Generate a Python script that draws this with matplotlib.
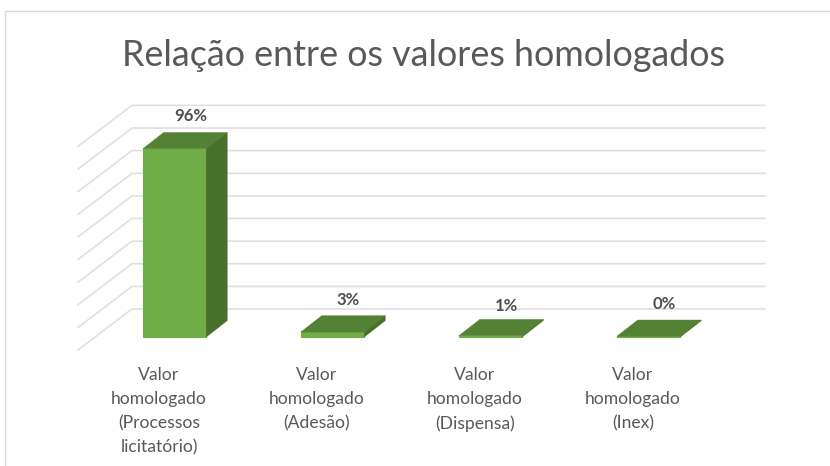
import matplotlib.pyplot as plt
from matplotlib.patches import Polygon

plt.rcParams['font.family'] = ['Lato', 'DejaVu Sans']

title = "Relação entre os valores homologados"
categories = [
    "Valor\nhomologado\n(Processos\nlicitatório)",
    "Valor\nhomologado\n(Adesão)",
    "Valor\nhomologado\n(Dispensa)",
    "Valor\nhomologado\n(Inex)",
]
values = [96, 2.5, 0.6, 0.3]
labels = ["96%", "3%", "1%", "0%"]
grid_levels = [14.3, 25.8, 37.4, 48.9, 60.5, 72.0, 83.5, 95.1, 106.6, 118.2]

W, H = 830, 466
# pixel scale of the chart: category spacing and height of 1%
PX_CAT = 158
PX_PCT = 1.96
X0, Y0 = 174.5, 337  # centre of first bar, bar baseline
L, R, T, B = 78, 765, 105, 350

GREEN = "#70ad47"
TOP = "#548235"
SIDE = "#496f2c"
GRID = "#e0e0e0"
TEXT = "#595959"

fig = plt.figure(figsize=(W / 100, H / 100), dpi=100)
ax = fig.add_axes([L / W, 1 - B / H, (R - L) / W, (B - T) / H])
ax.set_xlim((L - X0) / PX_CAT, (R - X0) / PX_CAT)
ax.set_ylim((Y0 - B) / PX_PCT, (Y0 - T) / PX_PCT)

# 3d walls: back gridline plus the slanted part on the side wall
wall_x = (132 - X0) / PX_CAT
left_x = (L - X0) / PX_CAT
right_x = (R - X0) / PX_CAT
drop = 41 / PX_PCT
for lvl in grid_levels:
    ax.plot([left_x, wall_x, right_x], [lvl - drop, lvl, lvl], color=GRID, lw=1.2,
            zorder=1, clip_on=False, solid_joinstyle="miter")

# bars with fake depth
width = 63.5 / PX_CAT
dx = 21 / PX_CAT
dy = 16.4 / PX_PCT
for i, v in enumerate(values):
    x1, x2 = i - width / 2, i + width / 2
    ax.bar(i, v, width, color=GREEN, edgecolor=GREEN, lw=0.8, zorder=3)
    ax.add_patch(Polygon([(x1, v), (x2, v), (x2 + dx, v + dy), (x1 + dx, v + dy)],
                         facecolor=TOP, edgecolor=TOP, lw=0.3, zorder=4))
    ax.add_patch(Polygon([(x2, 0), (x2 + dx, dy), (x2 + dx, v + dy), (x2, v)],
                         facecolor=SIDE, edgecolor=SIDE, lw=0.3, zorder=4))

label_dy = [11.5, 11.5, 9.5, 11.5]
for i, v in enumerate(values):
    ax.annotate(labels[i], xy=(i + 16 / PX_CAT, v + dy), xytext=(0, label_dy[i]),
                textcoords="offset points", ha="center", va="center",
                fontsize=12, fontweight="bold", color="#505050", zorder=5)

ax.set_xticks([i - 15.5 / PX_CAT for i in range(len(categories))])
ax.set_xticklabels(categories, fontsize=12.6, color=TEXT, linespacing=1.6)
ax.tick_params(axis="x", length=0, pad=12.5)
ax.set_yticks([])
for s in ax.spines.values():
    s.set_visible(False)

fig.text(423 / W, 1 - 55 / H, title, ha="center", va="center", fontsize=25.8, color=TEXT)

# chart frame, only top and left are in view
fig.add_artist(plt.Line2D([4.5 / W, 4.5 / W, 1], [0, 1 - 10.5 / H, 1 - 10.5 / H],
                          color="#d9d9d9", lw=1))

fig.savefig("out.png", dpi=100)
